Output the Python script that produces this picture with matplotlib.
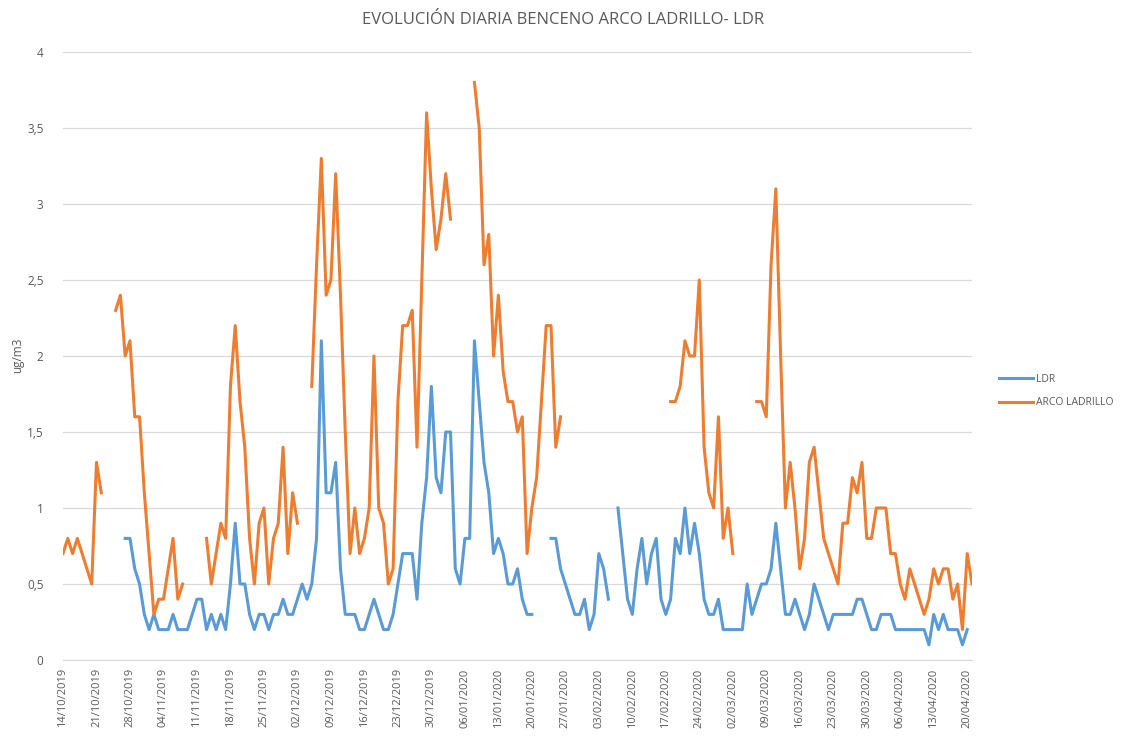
import numpy as np
import pandas as pd
import matplotlib
matplotlib.use("Agg")
import matplotlib.pyplot as plt

nan = np.nan

start_date = "2019-10-14"
n_days = 191

# LDR daily values (ug/m3), from 14/10/2019
ldr = (
    [nan] * 13
    + [0.8, 0.8, 0.6, 0.5, 0.3, 0.2, 0.3, 0.2, 0.2, 0.2, 0.3, 0.2, 0.2, 0.2, 0.3, 0.4, 0.4,
       0.2, 0.3, 0.2, 0.3, 0.2, 0.5, 0.9, 0.5, 0.5, 0.3, 0.2, 0.3, 0.3, 0.2, 0.3, 0.3, 0.4,
       0.3, 0.3, 0.4, 0.5, 0.4, 0.5, 0.8, 2.1, 1.1, 1.1, 1.3, 0.6, 0.3, 0.3, 0.3, 0.2, 0.2,
       0.3, 0.4, 0.3, 0.2, 0.2, 0.3, 0.5, 0.7, 0.7, 0.7, 0.4, 0.9, 1.2, 1.8, 1.2, 1.1, 1.5,
       1.5, 0.6, 0.5, 0.8, 0.8, 2.1, 1.7, 1.3, 1.1, 0.7, 0.8, 0.7, 0.5, 0.5, 0.6, 0.4, 0.3,
       0.3]
    + [nan] * 3
    + [0.8, 0.8, 0.6, 0.5, 0.4, 0.3, 0.3, 0.4, 0.2, 0.3, 0.7, 0.6, 0.4]
    + [nan]
    + [1.0, 0.7, 0.4, 0.3, 0.6, 0.8, 0.5, 0.7, 0.8, 0.4, 0.3, 0.4, 0.8, 0.7, 1.0, 0.7, 0.9,
       0.7, 0.4, 0.3, 0.3, 0.4, 0.2, 0.2, 0.2, 0.2, 0.2, 0.5, 0.3, 0.4, 0.5, 0.5, 0.6, 0.9,
       0.6, 0.3, 0.3, 0.4, 0.3, 0.2, 0.3, 0.5, 0.4, 0.3, 0.2, 0.3, 0.3, 0.3, 0.3, 0.3, 0.4,
       0.4, 0.3, 0.2, 0.2, 0.3, 0.3, 0.3, 0.2, 0.2, 0.2, 0.2, 0.2, 0.2, 0.2, 0.1, 0.3, 0.2,
       0.3, 0.2, 0.2, 0.2, 0.1, 0.2]
    + [nan]
)

# ARCO LADRILLO daily values (ug/m3), from 14/10/2019
arco = (
    [0.7, 0.8, 0.7, 0.8, 0.7, 0.6, 0.5, 1.3, 1.1]
    + [nan] * 2
    + [2.3, 2.4, 2.0, 2.1, 1.6, 1.6, 1.1, 0.7, 0.3, 0.4, 0.4, 0.6, 0.8, 0.4, 0.5]
    + [nan] * 4
    + [0.8, 0.5, 0.7, 0.9, 0.8, 1.8, 2.2, 1.7, 1.4, 0.8, 0.5, 0.9, 1.0, 0.5, 0.8, 0.9, 1.4,
       0.7, 1.1, 0.9]
    + [nan] * 2
    + [1.8, 2.6, 3.3, 2.4, 2.5, 3.2, 2.4, 1.5, 0.7, 1.0, 0.7, 0.8, 1.0, 2.0, 1.0, 0.9, 0.5,
       0.6, 1.7, 2.2, 2.2, 2.3, 1.4, 2.5, 3.6, 3.1, 2.7, 2.9, 3.2, 2.9]
    + [nan] * 4
    + [3.8, 3.5, 2.6, 2.8, 2.0, 2.4, 1.9, 1.7, 1.7, 1.5, 1.6, 0.7, 1.0, 1.2, 1.7, 2.2, 2.2,
       1.4, 1.6]
    + [nan] * 22
    + [1.7, 1.7, 1.8, 2.1, 2.0, 2.0, 2.5, 1.4, 1.1, 1.0, 1.6, 0.8, 1.0, 0.7]
    + [nan] * 4
    + [1.7, 1.7, 1.6, 2.6, 3.1, 2.0, 1.0, 1.3, 1.0, 0.6, 0.8, 1.3, 1.4, 1.1, 0.8, 0.7, 0.6,
       0.5, 0.9, 0.9, 1.2, 1.1, 1.3, 0.8, 0.8, 1.0, 1.0, 1.0, 0.7, 0.7, 0.5, 0.4, 0.6, 0.5,
       0.4, 0.3, 0.4, 0.6, 0.5, 0.6, 0.6, 0.4, 0.5, 0.2, 0.7, 0.5]
)

y_ticks = [0, 0.5, 1, 1.5, 2, 2.5, 3, 3.5, 4]
y_tick_labels = ["0", "0,5", "1", "1,5", "2", "2,5", "3", "3,5", "4"]

title = "EVOLUCIÓN DIARIA BENCENO ARCO LADRILLO- LDR"
y_label = "ug/m3"
series_names = ["LDR", "ARCO LADRILLO"]

assert len(ldr) == n_days and len(arco) == n_days
dates = pd.date_range(start_date, periods=n_days, freq="D")

plt.rcParams["font.family"] = ["Open Sans", "DejaVu Sans"]
text_color = "#595959"
grid_color = "#D9D9D9"

fig = plt.figure(figsize=(11.26, 7.38), dpi=100)
ax = fig.add_axes([63 / 1126, 1 - 660 / 738, (972 - 63) / 1126, (660 - 52) / 738])

ax.plot(dates, ldr, color="#5B9BD5", lw=2.2, label=series_names[0], solid_joinstyle="round")
ax.plot(dates, arco, color="#ED7D31", lw=2.2, label=series_names[1], solid_joinstyle="round")

ax.set_xlim(dates[0], dates[-1])
ax.set_ylim(0, 4)
ax.set_yticks(y_ticks)
ax.set_yticklabels(y_tick_labels)
tick_dates = dates[::7]
ax.set_xticks(tick_dates)
ax.set_xticklabels([d.strftime("%d/%m/%Y") for d in tick_dates], rotation=90)

ax.grid(axis="y", color=grid_color, lw=0.9)
ax.set_axisbelow(True)
for s in ["top", "right", "left"]:
    ax.spines[s].set_visible(False)
ax.spines["bottom"].set_color(grid_color)
ax.spines["bottom"].set_linewidth(0.9)
ax.tick_params(axis="both", length=0, colors=text_color, labelsize=8)
ax.tick_params(axis="y", pad=14, labelsize=8.5)
ax.tick_params(axis="x", pad=6)

fig.text(18 / 1126, 1 - 355 / 738, y_label, rotation=90, ha="center", va="center",
         color=text_color, fontsize=8.5)
fig.text(0.5, 1 - 20 / 738, title, ha="center", va="center", color=text_color, fontsize=12)

leg = ax.legend(loc="center left", bbox_to_anchor=(990 / 1126, 1 - 391 / 738),
                bbox_transform=fig.transFigure, frameon=False, fontsize=7.5,
                handlelength=3.2, handletextpad=0.3, labelspacing=1.2, labelcolor=text_color)

fig.savefig("out.png", dpi=100)
